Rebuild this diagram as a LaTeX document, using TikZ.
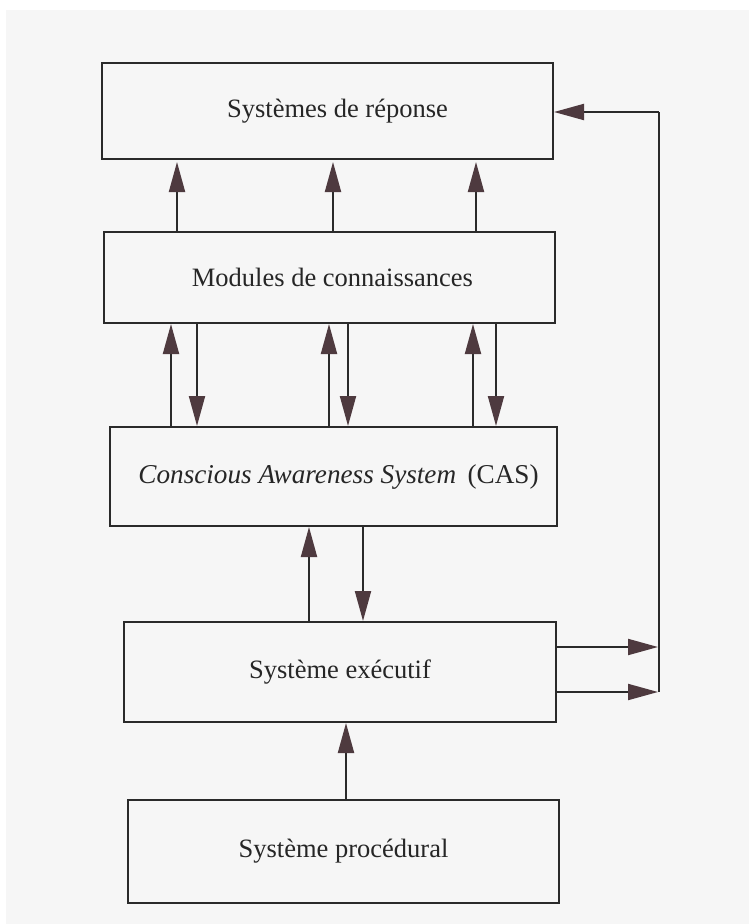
\documentclass[tikz,border=0pt]{standalone}
\usepackage{fontspec}
\setmainfont{Liberation Serif}
\usetikzlibrary{arrows.meta}
\definecolor{bgc}{HTML}{F6F6F6}
\definecolor{linec}{HTML}{2A2A2A}
\definecolor{arrowc}{RGB}{78,58,63}
\definecolor{textc}{HTML}{262626}
\tikzset{
  box/.style={draw=linec, line width=2.2pt, rectangle, inner sep=0pt, outer sep=0pt,
    text=textc, font=\fontsize{26.5}{30}\selectfont},
  arr/.style={draw=linec, line width=2pt,
    -{Triangle[length=30pt,width=16pt,color=arrowc]}, shorten >=1pt},
  plainline/.style={draw=linec, line width=2pt}
}
\begin{document}
\begin{tikzpicture}[x=1pt,y=-1pt]
\useasboundingbox (0,0) rectangle (749,924);
\fill[white] (0,0) rectangle (749,924);
\fill[bgc] (6,10) rectangle (749,924);

\node[box, minimum width=451pt, minimum height=96pt] (rep) at (327.5,111) {\hspace*{20pt}Systèmes de réponse};
\node[box, minimum width=451pt, minimum height=91pt] (mod) at (329.5,277.5) {\hspace*{6pt}Modules de connaissances};
\node[box, minimum width=447pt, minimum height=99pt, font=\fontsize{27.2}{30}\selectfont] (cas) at (333.5,476.5) {\hspace*{10pt}\textit{Conscious Awareness System}\ \,(CAS)};
\node[box, minimum width=432pt, minimum height=100pt] (exe) at (340,672) {Système exécutif};
\node[box, minimum width=431pt, minimum height=103pt] (pro) at (343.5,851.5) {Système procédural};

% columns
\coordinate (u1) at (177,0);
\coordinate (u2) at (333,0);
\coordinate (u3) at (476,0);
\coordinate (v1) at (171,0);
\coordinate (w1) at (197,0);
\coordinate (v2) at (329,0);
\coordinate (w2) at (348,0);
\coordinate (v3) at (473,0);
\coordinate (w3) at (496,0);
\coordinate (c1) at (309,0);
\coordinate (c2) at (363,0);
\coordinate (p1) at (346,0);
\coordinate (r1) at (0,647);
\coordinate (r2) at (0,692);
\coordinate (fb) at (659,112);
\coordinate (fbb) at (659,692);

% Modules -> Reponse
\draw[arr, shorten >=3pt] (u1 |- mod.north) -- (u1 |- rep.south);
\draw[arr, shorten >=3pt] (u2 |- mod.north) -- (u2 |- rep.south);
\draw[arr, shorten >=3pt] (u3 |- mod.north) -- (u3 |- rep.south);

% CAS <-> Modules
\draw[arr] (v1 |- cas.north) -- (v1 |- mod.south);
\draw[arr] (w1 |- mod.south) -- (w1 |- cas.north);
\draw[arr] (v2 |- cas.north) -- (v2 |- mod.south);
\draw[arr] (w2 |- mod.south) -- (w2 |- cas.north);
\draw[arr] (v3 |- cas.north) -- (v3 |- mod.south);
\draw[arr] (w3 |- mod.south) -- (w3 |- cas.north);

% Executif <-> CAS
\draw[arr] (c1 |- exe.north) -- (c1 |- cas.south);
\draw[arr] (c2 |- cas.south) -- (c2 |- exe.north);

% Procedural -> Executif
\draw[arr] (p1 |- pro.north) -- (p1 |- exe.south);

% Executif -> right
\draw[arr] (exe.east |- r1) -- (fb |- r1);
\draw[arr] (exe.east |- r2) -- (fbb);

% feedback line
\draw[plainline] (fbb) -- (fb);
\draw[arr, shorten >=1pt] (fb) -- (rep.east |- fb);
\end{tikzpicture}
\end{document}
